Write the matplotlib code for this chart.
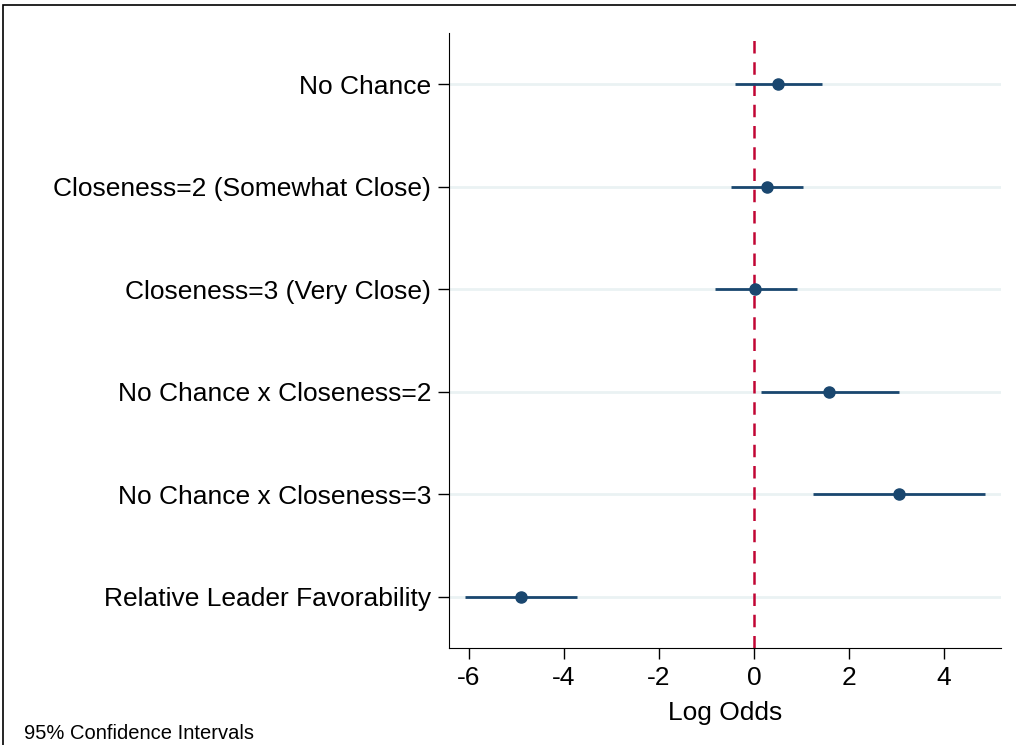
import matplotlib
matplotlib.use("Agg")
from matplotlib import pyplot as plt
from matplotlib.patches import Rectangle

plt.rcParams['font.family'] = ['Liberation Sans', 'DejaVu Sans']

labels = ['No Chance', 'Closeness=2 (Somewhat Close)', 'Closeness=3 (Very Close)',
          'No Chance x Closeness=2', 'No Chance x Closeness=3', 'Relative Leader Favorability']
est = [0.50, 0.27, 0.02, 1.58, 3.05, -4.89]
lo = [-0.40, -0.48, -0.82, 0.15, 1.24, -6.07]
hi = [1.43, 1.03, 0.90, 3.05, 4.85, -3.72]

navy = '#1a476f'
red = '#c10534'

fig = plt.figure(figsize=(10.16, 7.45), dpi=100)
ax = fig.add_axes([0.442, 0.130, 0.543, 0.826])

ypos = list(range(1, len(labels) + 1))
for y in ypos:
    ax.axhline(y, color='#eaf2f3', linewidth=2, zorder=0)

ax.axvline(0, color=red, linestyle=(0, (5, 3.5)), linewidth=1.8, zorder=1)
ax.hlines(ypos, lo, hi, color=navy, linewidth=2, zorder=2)
ax.plot(est, ypos, 'o', color=navy, markersize=8, zorder=3)

ax.set_ylim(6.5, 0.5)
ax.set_xlim(-6.41, 5.19)
ax.set_yticks(ypos)
ax.set_yticklabels(labels, fontsize=19)
ax.set_xticks([-6, -4, -2, 0, 2, 4])
ax.set_xticklabels(['-6', '-4', '-2', '0', '2', '4'], fontsize=19)
ax.set_xlabel('Log Odds', fontsize=19, labelpad=8)
ax.tick_params(axis='both', length=8, width=1, direction='out')
ax.tick_params(axis='y', pad=5)
ax.tick_params(axis='x', pad=5)
ax.spines['top'].set_visible(False)
ax.spines['right'].set_visible(False)

fig.text(0.024, 0.008, '95% Confidence Intervals', fontsize=14.5)
fig.patches.append(Rectangle((0.003, -0.1), 1.2, 0.1 + 0.993, transform=fig.transFigure,
                             fill=False, edgecolor='black', linewidth=1.2))

fig.savefig('out.png', dpi=100)
